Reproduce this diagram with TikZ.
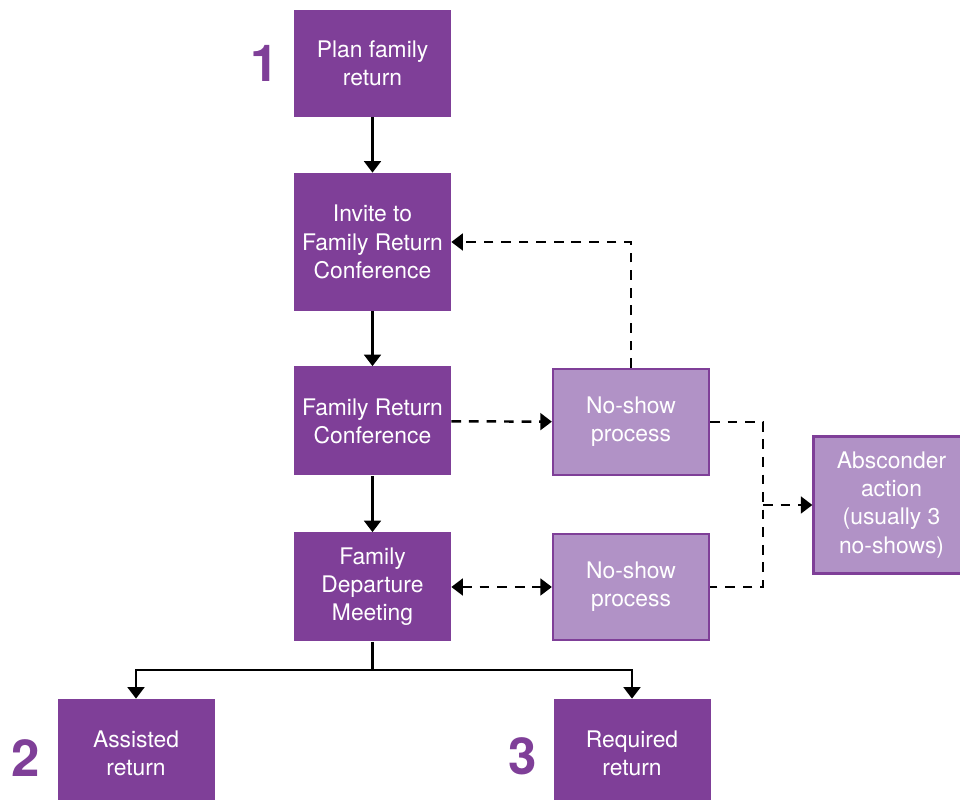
\documentclass[tikz,border=0pt]{standalone}
\usepackage{fontspec}
\setmainfont{TeX Gyre Heros}
\usepackage{xcolor}
\usepackage{tikz}
\usetikzlibrary{arrows.meta}
\definecolor{planpurple}{HTML}{7F3F98}
\definecolor{nshowlilac}{HTML}{B192C6}

\begin{document}
\begin{tikzpicture}[
  stage/.style={fill=planpurple,text=white,align=center,inner sep=2pt,
    minimum width=3.14cm,minimum height=2.16cm,font=\fontsize{13}{16}\selectfont},
  noshow/.style={stage,fill=nshowlilac,draw=planpurple,line width=1.3pt,
    minimum width=3.12cm,minimum height=2.12cm},
  rank/.style={text=planpurple,font=\fontsize{29}{29}\selectfont\bfseries},
  flow/.style={-{Triangle[width=9.5pt,length=6.5pt]},line width=1.4pt},
  miss/.style={flow,dash pattern=on 5.5pt off 4.5pt},
]
\useasboundingbox (0,0) rectangle (19.2,16);

% Main stages
\node[stage,minimum height=2.14cm] (plan) at (7.45,14.73) {Plan family\\return};
\node[stage,minimum height=2.76cm] (invite) at (7.45,11.16) {Invite to\\Family Return\\Conference};
\node[stage,minimum height=2.18cm] (conf) at (7.45,7.58) {Family Return\\Conference};
\node[stage,minimum height=2.18cm] (depart) at (7.45,4.26) {Family\\Departure\\Meeting};
\node[stage] (assisted) at (2.72,0.94) {Assisted\\return};
\node[stage] (required) at (12.64,0.94) {Required\\return};

% No-shows
\node[noshow] (noshowA) at (12.62,7.56) {No-show\\process};
\node[noshow] (noshowB) at (12.62,4.26) {No-show\\process};
\node[noshow,minimum height=2.74cm] (abscond) at (17.83,5.9) {Absconder\\action\\(usually 3\\no-shows)};

% Route numbers
\node[rank] (one) at (5.3,14.74) {1};
\node[rank] (two) at (0.52,0.84) {2};
\node[rank] (three) at (10.46,0.88) {3};

% Solid flow
\draw[flow] (plan) -- (invite);
\draw[flow] (invite) -- (conf);
\draw[flow] (conf) -- (depart);
\draw[line width=1.4pt] (depart.south) -- ++(0,-0.56) coordinate (split);
\draw[flow] (split) -| (assisted.north);
\draw[flow] (split) -| (required.north);

% Dashed flow
\draw[miss] (conf) -- (noshowA);
\draw[miss] (noshowA.north) |- (invite.east);
\draw[miss,{Triangle[width=9.5pt,length=6.5pt]}-{Triangle[width=9.5pt,length=6.5pt]}] (depart) -- (noshowB);
\coordinate (join) at (15.26,5.9);
\draw[line width=1.4pt,dash pattern=on 5.5pt off 4.5pt] (noshowA.east) -| (join) |- (noshowB.east);
\draw[miss] (join) -- (abscond.west);
\end{tikzpicture}
\end{document}
